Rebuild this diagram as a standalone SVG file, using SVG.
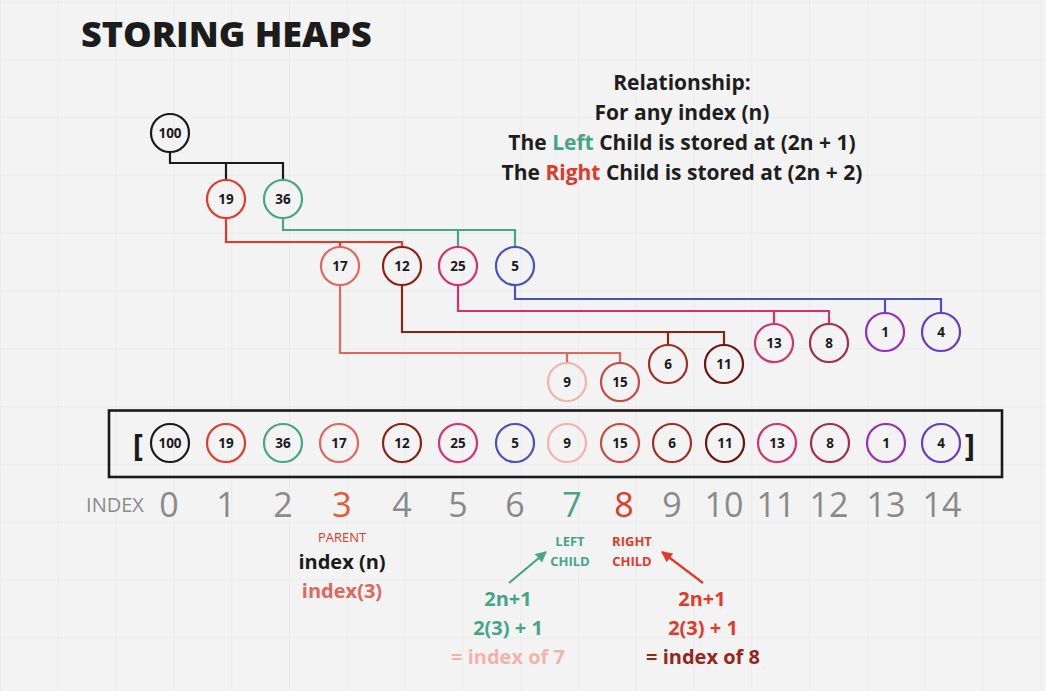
<svg xmlns="http://www.w3.org/2000/svg" width="1046" height="691" viewBox="0 0 1046 691">
<defs>
<pattern id="grid" patternUnits="userSpaceOnUse" x="0" y="1.5" width="57.8" height="57.8">
<path d="M0 0 H57.8 M0 0 V57.8" fill="none" stroke="#e6e6e6" stroke-width="1.2"/>
</pattern>
<marker id="ag" viewBox="0 0 10 10" refX="9" refY="5" markerWidth="5" markerHeight="5" orient="auto" markerUnits="strokeWidth">
<path d="M0 0 L10 5 L0 10 z" fill="#45a586"/>
</marker>
<marker id="ar" viewBox="0 0 10 10" refX="9" refY="5" markerWidth="5" markerHeight="5" orient="auto" markerUnits="strokeWidth">
<path d="M0 0 L10 5 L0 10 z" fill="#e2392a"/>
</marker>
</defs>
<style>
.n circle{fill:none;stroke-width:2.2}
.n text{font-family:"Open Sans","Liberation Sans",sans-serif;font-weight:700;font-size:13.5px;text-anchor:middle;fill:#1a1a1a}
.c path{fill:none;stroke-width:2.2}
.t{font-family:"Open Sans","Liberation Sans",sans-serif;text-anchor:middle}
.b{font-weight:700}
.idx{font-size:34px;fill:#8a8a8a}
</style>
<rect width="1046" height="691" fill="#f3f3f3"/>
<rect width="1046" height="691" fill="url(#grid)"/>

<text x="81" y="47" font-family="Open Sans, Liberation Sans, sans-serif" font-weight="800" font-size="36" fill="#1c1c1c">STORING HEAPS</text>

<g id="relationship" class="t b" font-size="21" fill="#1e1e1e">
<text x="682" y="90">Relationship:</text>
<text x="682" y="120">For any index (n)</text>
<text x="682" y="150">The <tspan fill="#45a586">Left</tspan> Child is stored at (2n + 1)</text>
<text x="682" y="180">The <tspan fill="#e2392a">Right</tspan> Child is stored at (2n + 2)</text>
</g>

<g id="connectors" class="c">
<path d="M170 152 V163 H283 V180 M226 163 V180" stroke="#1a1a1a"/>
<path d="M226 218 V242 H402 V247 M340 242 V247" stroke="#e2392a"/>
<path d="M283 218 V230 H515 V247 M458 230 V247" stroke="#45a586"/>
<path d="M340 285 V353 H620 V363 M567 353 V363" stroke="#e0675b"/>
<path d="M402 285 V332 H724 V345 M668 332 V345" stroke="#8b2315"/>
<path d="M458 285 V311 H829 V324 M774 311 V324" stroke="#d6306e"/>
<path d="M515 285 V299 H941 V313 M885 299 V313" stroke="#4a50bd"/>
<path d="M509 583 L546 552" stroke="#45a586" stroke-width="2.6" marker-end="url(#ag)"/>
<path d="M703 583 L662 552" stroke="#e2392a" stroke-width="2.6" marker-end="url(#ar)"/>
</g>

<g id="tree">
<g id="t100" class="n"><circle cx="170" cy="133" r="19" stroke="#1a1a1a"/><text x="170" y="137.5">100</text></g>
<g id="t19" class="n"><circle cx="226" cy="199" r="19" stroke="#e2392a"/><text x="226" y="203.5">19</text></g>
<g id="t36" class="n"><circle cx="283" cy="199" r="19" stroke="#45a586"/><text x="283" y="203.5">36</text></g>
<g id="t17" class="n"><circle cx="340" cy="266" r="19" stroke="#e0675b"/><text x="340" y="270.5">17</text></g>
<g id="t12" class="n"><circle cx="402" cy="266" r="19" stroke="#8b2315"/><text x="402" y="270.5">12</text></g>
<g id="t25" class="n"><circle cx="458" cy="266" r="19" stroke="#d6306e"/><text x="458" y="270.5">25</text></g>
<g id="t5" class="n"><circle cx="515" cy="266" r="19" stroke="#4a50bd"/><text x="515" y="270.5">5</text></g>
<g id="t9" class="n"><circle cx="567" cy="382" r="19" stroke="#f5b2ab"/><text x="567" y="386.5">9</text></g>
<g id="t15" class="n"><circle cx="620" cy="382" r="19" stroke="#c64b41"/><text x="620" y="386.5">15</text></g>
<g id="t6" class="n"><circle cx="668" cy="364" r="19" stroke="#a32f24"/><text x="668" y="368.5">6</text></g>
<g id="t11" class="n"><circle cx="724" cy="364" r="19" stroke="#6b1510"/><text x="724" y="368.5">11</text></g>
<g id="t13" class="n"><circle cx="774" cy="343" r="19" stroke="#d6306e"/><text x="774" y="347.5">13</text></g>
<g id="t8" class="n"><circle cx="829" cy="343" r="19" stroke="#a82a50"/><text x="829" y="347.5">8</text></g>
<g id="t1" class="n"><circle cx="885" cy="332" r="19" stroke="#9b2bbb"/><text x="885" y="336.5">1</text></g>
<g id="t4" class="n"><circle cx="941" cy="332" r="19" stroke="#6a3bc2"/><text x="941" y="336.5">4</text></g>
</g>

<g id="array">
<rect x="109" y="410.5" width="893" height="66.5" fill="none" stroke="#1a1a1a" stroke-width="2.6"/>
<text class="t b" x="138" y="456" font-size="31" fill="#1a1a1a">[</text>
<text class="t b" x="970" y="456" font-size="31" fill="#1a1a1a">]</text>
<g id="a0" class="n"><circle cx="170" cy="443" r="19" stroke="#1a1a1a"/><text x="170" y="447.5">100</text></g>
<g id="a1" class="n"><circle cx="226" cy="443" r="19" stroke="#e2392a"/><text x="226" y="447.5">19</text></g>
<g id="a2" class="n"><circle cx="283" cy="443" r="19" stroke="#45a586"/><text x="283" y="447.5">36</text></g>
<g id="a3" class="n"><circle cx="339" cy="443" r="19" stroke="#e0675b"/><text x="339" y="447.5">17</text></g>
<g id="a4" class="n"><circle cx="402" cy="443" r="19" stroke="#8b2315"/><text x="402" y="447.5">12</text></g>
<g id="a5" class="n"><circle cx="458" cy="443" r="19" stroke="#d6306e"/><text x="458" y="447.5">25</text></g>
<g id="a6" class="n"><circle cx="515" cy="443" r="19" stroke="#4a50bd"/><text x="515" y="447.5">5</text></g>
<g id="a7" class="n"><circle cx="567" cy="443" r="19" stroke="#f5b2ab"/><text x="567" y="447.5">9</text></g>
<g id="a8" class="n"><circle cx="620" cy="443" r="19" stroke="#c64b41"/><text x="620" y="447.5">15</text></g>
<g id="a9" class="n"><circle cx="672" cy="443" r="19" stroke="#a32f24"/><text x="672" y="447.5">6</text></g>
<g id="a10" class="n"><circle cx="725" cy="443" r="19" stroke="#6b1510"/><text x="725" y="447.5">11</text></g>
<g id="a11" class="n"><circle cx="777" cy="443" r="19" stroke="#d6306e"/><text x="777" y="447.5">13</text></g>
<g id="a12" class="n"><circle cx="830" cy="443" r="19" stroke="#a82a50"/><text x="830" y="447.5">8</text></g>
<g id="a13" class="n"><circle cx="886" cy="443" r="19" stroke="#9b2bbb"/><text x="886" y="447.5">1</text></g>
<g id="a14" class="n"><circle cx="941" cy="443" r="19" stroke="#6a3bc2"/><text x="941" y="447.5">4</text></g>
</g>

<g id="index-row" class="t">
<text x="115" y="512" font-size="20" fill="#8a8a8a">INDEX</text>
<text class="idx" x="169" y="517">0</text>
<text class="idx" x="226" y="517">1</text>
<text class="idx" x="283" y="517">2</text>
<text class="idx" x="342" y="517" style="fill:#e25a37">3</text>
<text class="idx" x="402" y="517">4</text>
<text class="idx" x="458" y="517">5</text>
<text class="idx" x="515" y="517">6</text>
<text class="idx" x="572" y="517" style="fill:#45a586">7</text>
<text class="idx" x="624" y="517" style="fill:#e2392a">8</text>
<text class="idx" x="672" y="517">9</text>
<text class="idx" x="724" y="517">10</text>
<text class="idx" x="776" y="517">11</text>
<text class="idx" x="829" y="517">12</text>
<text class="idx" x="886" y="517">13</text>
<text class="idx" x="942" y="517">14</text>
</g>

<g id="parent-note" class="t">
<text x="342" y="542" font-size="13" fill="#e2392a">PARENT</text>
<text class="b" x="342" y="569" font-size="20" fill="#1a1a1a">index (n)</text>
<text class="b" x="342" y="598" font-size="20" fill="#e0675b">index(3)</text>
</g>

<g id="left-child" class="t b">
<text x="570" y="546" font-size="13" fill="#45a586">LEFT</text>
<text x="570" y="566" font-size="13" fill="#45a586">CHILD</text>
<text x="508" y="606" font-size="20" fill="#45a586">2n+1</text>
<text x="508" y="635" font-size="20" fill="#45a586">2(3) + 1</text>
<text x="508" y="664" font-size="20" fill="#f5b2ab">= index of 7</text>
</g>

<g id="right-child" class="t b">
<text x="632" y="546" font-size="13" fill="#e2392a">RIGHT</text>
<text x="632" y="566" font-size="13" fill="#e2392a">CHILD</text>
<text x="702" y="606" font-size="20" fill="#e2392a">2n+1</text>
<text x="703" y="635" font-size="20" fill="#e2392a">2(3) + 1</text>
<text x="703" y="664" font-size="20" fill="#9a2418">= index of 8</text>
</g>
</svg>
